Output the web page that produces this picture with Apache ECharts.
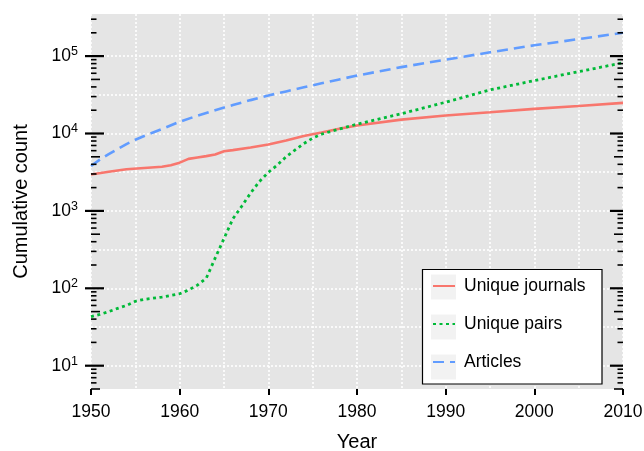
<!DOCTYPE html>
<html>
<head>
<meta charset="utf-8">
<script src="https://cdn.jsdelivr.net/npm/echarts@6/dist/echarts.min.js"></script>
<style>
html,body{margin:0;padding:0;background:#fff;}
#c{width:644px;height:451px;}
</style>
</head>
<body>
<div id="c"></div>
<script>
// ---- data ----
var journalYears = [1950,1952,1954,1956,1958,1959,1960,1961,1962,1963,1964,1965,1966,1968,1970,1972,1973,1974,1976,1978,1980,1985,1990,1995,2000,2005,2010];
var journalValues = [2950,3200,3450,3580,3720,3900,4200,4700,4900,5100,5350,5900,6100,6600,7200,8100,8700,9300,10300,11500,12700,15100,17100,18800,20800,22700,24900];

var pairYears = [1950,1951,1952,1953,1954,1955,1956,1958,1960,1961,1962,1963,1964,1965,1966,1967,1968,1969,1970,1971,1972,1973,1974,1975,1976,1977,1978,1980,1985,1990,1995,2000,2005,2010];
var pairValues = [43,46,50,55,60,68,72,77,85,95,110,135,245,440,790,1150,1700,2400,3150,3900,5000,6100,7400,8700,9800,10600,11400,13200,18000,25400,36600,48300,63000,82000];

var articleYears = [1950,1951,1952,1953,1954,1955,1956,1958,1960,1962,1964,1966,1968,1970,1972,1974,1976,1978,1980,1985,1990,1995,2000,2005,2010];
var articleValues = [3800,4600,5400,6300,7300,8300,9300,11400,14200,17000,20000,23300,27000,31000,35000,39500,44500,50000,56000,72000,90000,112000,138000,166000,200000];

var seriesNames = ['Unique journals','Unique pairs','Articles'];
var xTicks = [1950,1960,1970,1980,1990,2000,2010];
var yMajorBreaks = [10,100,1000,10000,100000];
var yMinorGridBreaks = [31.62,316.2,3162,31623];
var yMin = 5, yMax = 350000;

function pairs(xs, ys){ return xs.map(function(x,i){ return [x, ys[i]]; }); }

var FONT = "'Liberation Sans', Arial, sans-serif";
var chart = echarts.init(document.getElementById('c'), null, {renderer:'canvas'});

var gridStyle = {color:'#ffffff', width:1.6, type:[2,2]};

var option = {
  animation:false,
  backgroundColor:'#ffffff',
  textStyle:{fontFamily:FONT},
  grid:{left:91,right:21,top:14,bottom:62,show:true,backgroundColor:'#E5E5E5',borderWidth:0,
        containLabel:false, outerBoundsMode:'none'},
  xAxis:{
    type:'value', min:xTicks[0], max:xTicks[xTicks.length-1], interval:10,
    name:'Year', nameLocation:'middle', nameGap:43,
    nameTextStyle:{fontSize:20,color:'#000',fontFamily:FONT},
    axisLine:{show:false},
    axisTick:{show:true,length:6,lineStyle:{color:'#000',width:2}},
    axisLabel:{fontSize:17.5,color:'#000',margin:14,fontFamily:FONT,formatter:function(v){return String(v);}},
    splitLine:{show:true,lineStyle:gridStyle},
    minorTick:{show:false,splitNumber:2},
    minorSplitLine:{show:true,lineStyle:gridStyle}
  },
  yAxis:{
    type:'log', logBase:10, min:yMin, max:yMax,
    name:'Cumulative count', nameLocation:'middle', nameGap:60,
    nameTextStyle:{fontSize:20,color:'#000',fontFamily:FONT},
    axisLine:{show:false},
    axisTick:{show:false, customValues:yMajorBreaks},
    axisLabel:{
      margin:13, customValues:yMajorBreaks,
      formatter:function(v){
        var e = Math.round(Math.log(v)/Math.LN10);
        return '{b|10}{s|' + e + '}';
      },
      rich:{
        b:{fontSize:17.5,color:'#000',fontFamily:FONT,lineHeight:22},
        s:{fontSize:12.5,color:'#000',fontFamily:FONT,verticalAlign:'top',lineHeight:14}
      }
    },
    splitLine:{show:false}
  },
  legend:{
    data:seriesNames, orient:'vertical', left:432, top:277, z:20,
    itemWidth:22, itemHeight:20, itemGap:20, padding:0,
    itemStyle:{opacity:0},
    textStyle:{fontSize:17.5,color:'#000',fontFamily:FONT,padding:[0,0,0,4]},
    backgroundColor:'transparent', borderWidth:0
  },
  series:[
    {name:'_grid', type:'line', data:[], z:1, silent:true,
     markLine:{z:1, silent:true,symbol:'none',label:{show:false},animation:false,
       lineStyle:gridStyle,
       data:yMajorBreaks.concat(yMinorGridBreaks).map(function(v){return {yAxis:v};})}},
    {name:seriesNames[0], type:'line', data:pairs(journalYears,journalValues), symbol:'none',
     lineStyle:{color:'#F8766D',width:2.6,type:'solid'}, itemStyle:{color:'#F8766D'}, z:3},
    {name:seriesNames[1], type:'line', data:pairs(pairYears,pairValues), symbol:'none',
     lineStyle:{color:'#00BA38',width:2.8,type:[3,3.5]}, itemStyle:{color:'#00BA38'}, z:3},
    {name:seriesNames[2], type:'line', data:pairs(articleYears,articleValues), symbol:'none',
     lineStyle:{color:'#619CFF',width:2.6,type:[11,6]}, itemStyle:{color:'#619CFF'}, z:3}
  ]
};
chart.setOption(option);

// ---- log tick marks on left and right edges (positions via the axis scale) ----
var g = [];
var x0 = chart.convertToPixel({xAxisIndex:0}, xTicks[0]);
var x1 = chart.convertToPixel({xAxisIndex:0}, xTicks[xTicks.length-1]);
for (var n = 0; n <= 5; n++) {
  for (var m = 1; m <= 9; m++) {
    var v = m * Math.pow(10, n);
    if (v < yMin || v > yMax) continue;
    var y = chart.convertToPixel({yAxisIndex:0}, v);
    var len = (m === 1) ? 13 : (m === 5 ? 9 : 5.5);
    var w = (m === 1) ? 2.2 : 1.6;
    var outL = (m === 1) ? 6 : 0;
    g.push({type:'line', z:5, silent:true, shape:{x1:x0-outL, y1:y, x2:x0+len, y2:y}, style:{stroke:'#000', lineWidth:w}});
    g.push({type:'line', z:5, silent:true, shape:{x1:x1-len, y1:y, x2:x1, y2:y}, style:{stroke:'#000', lineWidth:w}});
  }
}
// legend frame and keys
g.push({type:'rect', z:10, silent:true, shape:{x:422.5,y:269.5,width:179.5,height:114.5}, style:{fill:'#ffffff',stroke:'#000',lineWidth:1.2}});
[287,327,367].forEach(function(cy){
  g.push({type:'rect', z:11, silent:true, shape:{x:431,y:cy-12.5,width:25,height:25}, style:{fill:'#F2F2F2'}});
});
chart.setOption({graphic:g});
</script>
</body>
</html>
